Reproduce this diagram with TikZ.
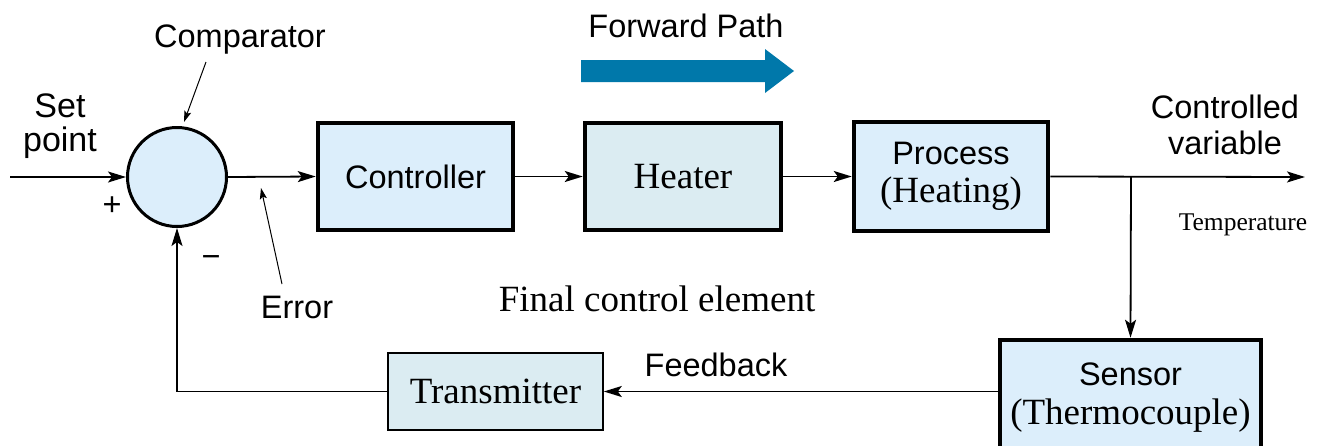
\documentclass[tikz,border=0pt]{standalone}
\usepackage{fontspec}
\setmainfont{Liberation Serif}
\setsansfont{Liberation Sans}
\usepackage{xcolor}
\usetikzlibrary{arrows.meta}

\definecolor{boxblue}{RGB}{220,238,251}
\definecolor{boxcyan}{RGB}{219,236,242}
\definecolor{pathblue}{RGB}{0,120,170}
\newcommand{\sflab}{\sffamily\fontsize{32.5}{36}\selectfont}
\newcommand{\rmlab}{\rmfamily\fontsize{37}{38.5}\selectfont}

\begin{document}
\begin{tikzpicture}[x=1pt, y=-1pt,
    conn/.style={line width=1.8pt, -{Stealth[length=18pt, width=11pt, inset=4pt]}},
    leader/.style={line width=1pt, -{Stealth[length=11pt, width=7pt, inset=2pt]}},
    blockbox/.style={draw, line width=4.5pt, fill=boxblue, inner sep=0pt},
    thinbox/.style={draw, line width=1.6pt, fill=boxcyan, inner sep=0pt},
    sumcirc/.style={draw, circle, line width=3pt, fill=boxblue, minimum size=99pt, inner sep=0pt},
    sftext/.style={font=\sflab, align=center, inner sep=0pt},
    rmtext/.style={font=\rmlab, align=center, inner sep=0pt}]
    \useasboundingbox (0,0) rectangle (1327,445);

    \node[sumcirc] (comp) at (177,177) {};
    \node[blockbox, minimum width=195pt, minimum height=107pt, font=\sflab] (ctrl) at (415.5,176.5) {Controller};
    \node[blockbox, fill=boxcyan, minimum width=196pt, minimum height=107pt, font=\rmlab] (heat) at (683,176.5) {Heater};
    \node[blockbox, minimum width=194pt, minimum height=109pt, align=center, font=\rmlab] (proc) at (951,176.5) {{\sflab Process}\\(Heating)};
    \node[blockbox, minimum width=261pt, minimum height=115pt, align=center, font=\rmlab] (sensor) at (1130.5,397.5) {{\sflab Sensor}\\(Thermocouple)};
    \node[thinbox, minimum width=215pt, minimum height=77pt, font=\rmlab] (trans) at (495.5,391.5) {Transmitter};

    \coordinate (in) at (10,177);
    \coordinate (out) at (1305,177);
    \coordinate (tap) at (1131,177);
    \draw[conn] (in) -- (comp.west);
    \draw[conn] (comp.east) -- (ctrl.west);
    \draw[conn] (ctrl.east) -- (heat.west);
    \draw[conn] (heat.east) -- (proc.west);
    \draw[conn] (proc.east) -- (out);
    \draw[conn] (tap) -- (sensor.north);
    \draw[conn] (sensor.west |- trans.east) -- (trans.east);
    \draw[conn] (trans.west) -| (comp.south);

    \node[sftext, font=\sffamily\fontsize{34}{34}\selectfont] (setpt) at (60,126) {Set\\point};
    \node[sftext] (complab) at (240,40) {Comparator};
    \node[sftext] (errlab) at (297,307) {Error};
    \node[sftext] (plus) at (112,206) {+};
    \node[sftext] (minus) at (211,262) {−};
    \node[sftext] (fwdlab) at (686,26) {Forward Path};
    \node[sftext] (ctrlvar) at (1225,125) {Controlled\\variable};
    \node[sftext] (fblab) at (716,365) {Feedback};
    \node[rmtext] (fce) at (657,299) {Final control element};
    \node[rmtext, font=\rmfamily\fontsize{25.5}{28}\selectfont] (templab) at (1243,225) {Temperature};

    \coordinate (comptip) at (184,122);
    \coordinate (errtip) at (261,188);
    \draw[leader] (206,62) -- (comptip);
    \draw[leader] (282,284) -- (errtip);

    \fill[pathblue] (581,60) -- (765,60) -- (765,49) -- (794,71) -- (765,93) -- (765,82) -- (581,82) -- cycle;
\end{tikzpicture}
\end{document}
